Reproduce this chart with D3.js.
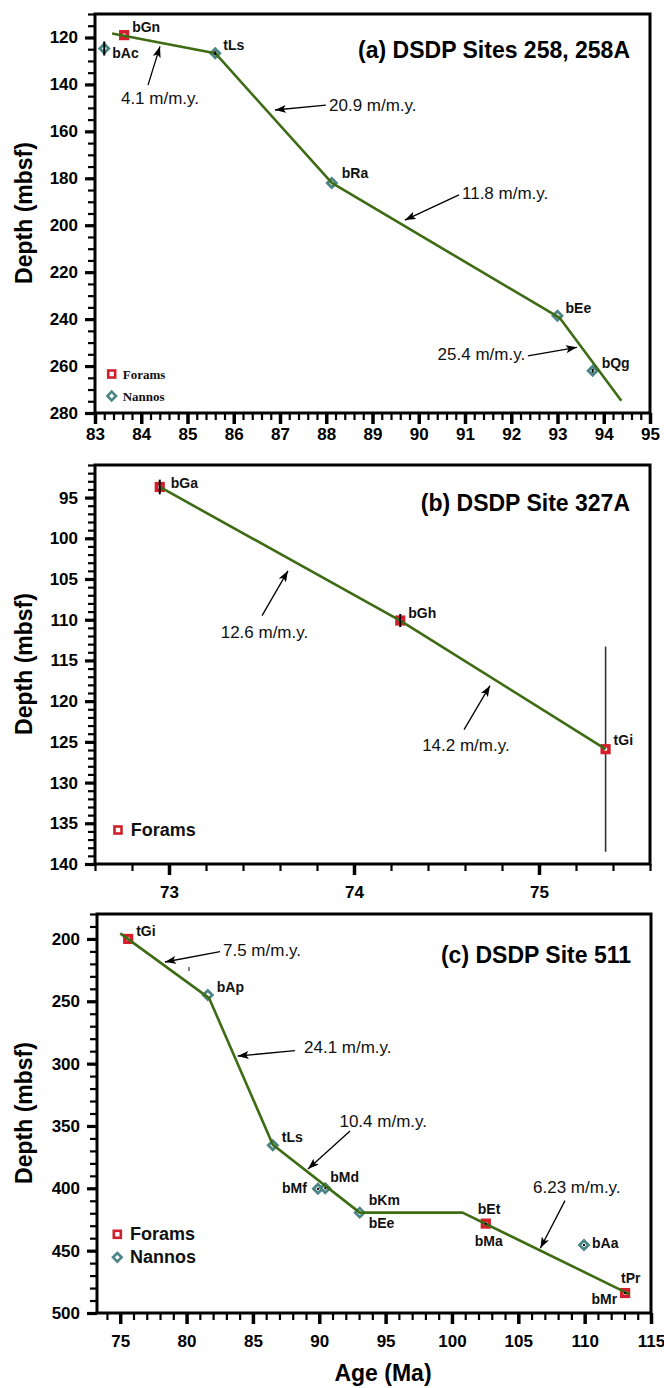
<!DOCTYPE html>
<html><head><meta charset="utf-8">
<script src="https://cdn.jsdelivr.net/npm/d3@7"></script>
<style>
body{margin:0;background:#fff}
svg{display:block}
</style>
</head><body>
<svg id="chart" width="664" height="1388" font-family="'Liberation Sans',Arial,sans-serif"></svg>
<script>
// ================= DATA =================
// ---- Panel (a) DSDP Sites 258, 258A ----
const aTitle       = '(a) DSDP Sites 258, 258A';
const aAgeTicks    = [83,84,85,86,87,88,89,90,91,92,93,94,95];
const aDepthTicks  = [120,140,160,180,200,220,240,260,280];
const aForamNames  = ['bGn'];
const aForamAges   = [83.63];
const aForamDepths = [119.0];
const aForamErr    = [0];
const aNannoNames  = ['bAc','tLs','bRa','bEe','bQg'];
const aNannoAges   = [83.20,85.60,88.12,93.00,93.76];
const aNannoDepths = [124.7,126.7,182.0,238.6,262.0];
const aNannoErr    = [3.0,0.8,0,0,0.8];
const aLineAges    = [83.37,85.60,88.12,93.05,94.38];
const aLineDepths  = [118.3,126.7,182.0,239.5,274.8];
const aRates       = ['4.1 m/m.y.','20.9 m/m.y.','11.8 m/m.y.','25.4 m/m.y.'];

// ---- Panel (b) DSDP Site 327A ----
const bTitle       = '(b) DSDP Site 327A';
const bAgeTicks    = [73,74,75];
const bDepthTicks  = [95,100,105,110,115,120,125,130,135,140];
const bForamNames  = ['bGa','bGh','tGi'];
const bForamAges   = [72.95,74.25,75.36];
const bForamDepths = [93.7,110.1,125.9];
const bForamErr    = [0.9,0.8,12.6];
const bNannoNames  = [];
const bNannoAges   = [];
const bNannoDepths = [];
const bNannoErr    = [];
const bLineAges    = [72.95,74.25,75.36];
const bLineDepths  = [93.7,110.1,125.9];
const bRates       = ['12.6 m/m.y.','14.2 m/m.y.'];

// ---- Panel (c) DSDP Site 511 ----
const cTitle       = '(c) DSDP Site 511';
const cAgeTicks    = [75,80,85,90,95,100,105,110,115];
const cDepthTicks  = [200,250,300,350,400,450,500];
const cForamNames  = ['tGi','bEt','tPr'];
const cForamAges   = [75.60,102.55,113.05];
const cForamDepths = [200.0,428.3,484.0];
const cForamErr    = [0,0.8,0.8];
const cNannoNames  = ['bAp','tLs','bMf','bMd','bKm','bAa'];
const cNannoAges   = [81.60,86.50,89.90,90.45,93.05,109.95];
const cNannoDepths = [245.0,365.4,400.4,400.0,419.5,445.5];
const cNannoErr    = [0,0,0.8,0.8,6.5,0.8];
const cExtraNames  = ['bMa','bMr','bEe'];   // second labels sharing a marker
const cLineAges    = [75.00,81.70,86.50,93.05,100.80,113.40];
const cLineDepths  = [195.5,247.5,365.0,419.5,419.5,485.0];
const cRates       = ['7.5 m/m.y.','24.1 m/m.y.','10.4 m/m.y.','6.23 m/m.y.'];

const xTitle = 'Age (Ma)';
const yTitle = 'Depth (mbsf)';
const legendNames = ['Forams','Nannos'];

// ================= STYLE / LAYOUT =================
const FORAM = '#d21f2b', NANNO = '#4b8585', LINE = '#3d6c14';
const SANS = "'Liberation Sans',Arial,sans-serif";
const SERIF = "'Liberation Serif','Times New Roman',serif";

const layoutA = {
  frame:{left:95,right:650,top:14,bottom:413},
  xDomain:[83,95], yDomain:[110,280],
  xMinor:d3.range(83,95.001,0.2), yMinor:d3.range(110,280.001,5),
  xPad:4, titleXY:[630,50],
  labels:{bGn:[8,-3,'start'],bAc:[8,9,'start'],tLs:[8,-3,'start'],bRa:[10,-5,'start'],bEe:[8,-3,'start'],bQg:[9,-3,'start']},
  rates:[
    {t:[84.405,145.8,'middle'], f:[84.146,140.3], h:[84.405,123.8]},
    {t:[88.06,148.8,'start'],  f:[87.99,148.8],  h:[86.89,150.9]},
    {t:[90.935,186.3,'start'], f:[90.87,187.1],  h:[89.70,197.8]},
    {t:[92.30,254.9,'end'],    f:[92.36,255.7],  h:[93.42,252.0]}
  ],
  legend:{x:111.7, y:[374,396], serif:true},
  yLabelY:213
};
const layoutB = {
  frame:{left:95,right:650,top:465,bottom:864},
  xDomain:[72.6,75.6], yDomain:[91,140],
  xMinor:d3.range(72.6,75.601,0.2), yMinor:d3.range(91,140.001,1),
  xPad:11, titleXY:[630,503],
  labels:{bGa:[11,1,'start'],bGh:[8,-3,'start'],tGi:[8,-4,'start']},
  rates:[
    {t:[73.516,111.63,'middle'], f:[73.503,109.5], h:[73.643,104.0]},
    {t:[74.605,125.4,'middle'],  f:[74.595,123.5], h:[74.735,118.1]}
  ],
  legend:{x:118, y:[830], serif:false},
  yLabelY:664
};
const layoutC = {
  frame:{left:97,right:651,top:914,bottom:1313},
  xDomain:[73.25,115], yDomain:[180,500],
  xMinor:d3.range(74,115.001,1), yMinor:d3.range(180,500.001,10),
  xPad:11, titleXY:[631,955],
  labels:{tGi:[8,-3,'start'],bAp:[9,-3,'start'],tLs:[9,-3,'start'],bMf:[-11,4,'end'],bMd:[5,-6,'start'],
          bKm:[9,-8,'start'],bEe:[9,15,'start'],bEt:[-8,-10,'start'],bMa:[-11,22,'start'],
          bAa:[8,3,'start'],tPr:[-4,-10,'start'],bMr:[-8,11,'end']},
  extraAt:{bMa:'bEt',bMr:'tPr',bEe:'bKm'},
  rates:[
    {t:[82.745,208.9,'start'], f:[82.52,210.2], h:[78.37,218.5]},
    {t:[88.85,286.7,'start'],  f:[88.17,289.6], h:[83.85,293.9]},
    {t:[98.12,346.8,'end'],    f:[92.32,354.0], h:[89.15,384.5]},
    {t:[106.11,399.7,'start'], f:[108.52,409.9],h:[106.66,448.1]}
  ],
  stray:[80.18,222.5,225.7],
  legend:{x:117.3, y:[1234.3,1257.3], serif:false},
  yLabelY:1113
};

// ================= RENDER =================
const svg = d3.select('#chart');
const defs = svg.append('defs');
defs.append('marker').attr('id','arrow').attr('markerUnits','userSpaceOnUse')
  .attr('markerWidth',11).attr('markerHeight',8).attr('refX',11).attr('refY',4)
  .attr('orient','auto')
  .append('path').attr('d','M0,0 L11,4 L0,8 L2.5,4 Z').attr('fill','#000');

function diamond(r){ return `M0,${-r} L${r},0 L0,${r} L${-r},0 Z`; }

function drawPanel(L, D){
  const F = L.frame;
  const x = d3.scaleLinear().domain(L.xDomain).range([F.left,F.right]);
  const y = d3.scaleLinear().domain(L.yDomain).range([F.top,F.bottom]);
  const g = svg.append('g');

  function ticks(axisGen, trans, vals, size, width, fmt, pad){
    const a = g.append('g').attr('transform',trans)
      .call(axisGen.tickValues(vals).tickSize(size).tickPadding(pad||0).tickFormat(fmt));
    a.select('.domain').remove();
    a.selectAll('line').attr('stroke','#000').attr('stroke-width',width);
    a.attr('font-family',SANS).attr('font-size',17).attr('font-weight','bold');
    a.selectAll('text').attr('fill','#000');
    return a;
  }
  // minor ticks
  ticks(d3.axisBottom(x), `translate(0,${F.bottom})`, L.xMinor, 7, 2.2, ()=>'');
  ticks(d3.axisLeft(y), `translate(${F.left},0)`, L.yMinor, 7, 2.2, ()=>'');
  // major ticks + labels
  ticks(d3.axisBottom(x), `translate(0,${F.bottom})`, D.ageTicks, 11, 3.5, d3.format('d'), L.xPad);
  ticks(d3.axisLeft(y), `translate(${F.left},0)`, D.depthTicks, 10, 3.2, d3.format('d'), 7);

  // frame
  g.append('rect').attr('x',F.left).attr('y',F.top)
    .attr('width',F.right-F.left).attr('height',F.bottom-F.top)
    .attr('fill','none').attr('stroke','#000').attr('stroke-width',3);

  // stray mark
  if (L.stray) g.append('line').attr('x1',x(L.stray[0])).attr('x2',x(L.stray[0]))
     .attr('y1',y(L.stray[1])).attr('y2',y(L.stray[2])).attr('stroke','#000').attr('stroke-width',1);

  const foram = D.foramNames.map((n,i)=>({n,a:D.foramAges[i],d:D.foramDepths[i],e:D.foramErr[i]}));
  const nanno = D.nannoNames.map((n,i)=>({n,a:D.nannoAges[i],d:D.nannoDepths[i],e:D.nannoErr[i]}));
  // big error bar (thin grey)
  foram.filter(p=>p.e>5).forEach(p=>{
    g.append('line').attr('x1',x(p.a)).attr('x2',x(p.a)).attr('y1',y(p.d-p.e)).attr('y2',y(p.d+p.e))
      .attr('stroke','#333').attr('stroke-width',1.6);
  });

  // markers
  nanno.forEach(p=>{
    g.append('path').attr('d',diamond(4.5)).attr('transform',`translate(${x(p.a)},${y(p.d)})`)
      .attr('fill','#fff').attr('stroke',NANNO).attr('stroke-width',2.8);
  });
  foram.forEach(p=>{
    g.append('rect').attr('x',x(p.a)-3.3).attr('y',y(p.d)-3.3).attr('width',6.6).attr('height',6.6)
      .attr('fill','#fff').attr('stroke',FORAM).attr('stroke-width',3.6);
  });

  // age-depth line
  const pts = D.lineAges.map((a,i)=>[a,D.lineDepths[i]]);
  g.append('path').attr('d',d3.line().x(d=>x(d[0])).y(d=>y(d[1]))(pts))
    .attr('fill','none').attr('stroke',LINE).attr('stroke-width',2.6).attr('stroke-linejoin','round');

  // small error bars
  foram.concat(nanno).filter(p=>p.e>0 && p.e<=5).forEach(p=>{
    g.append('line').attr('x1',x(p.a)).attr('x2',x(p.a)).attr('y1',y(p.d-p.e)).attr('y2',y(p.d+p.e))
      .attr('stroke','#000').attr('stroke-width',2);
  });

  // labels
  const all = foram.concat(nanno);
  const pos = {}; all.forEach(p=>pos[p.n]=p);
  const names = all.map(p=>p.n).concat(D.extraNames||[]);
  names.forEach(n=>{
    const p = pos[(L.extraAt && L.extraAt[n]) || n];
    const o = L.labels[n];
    g.append('text').attr('x',x(p.a)+o[0]).attr('y',y(p.d)+o[1]).attr('text-anchor',o[2])
      .attr('font-size',14).attr('font-weight','bold').attr('fill','#111').text(n);
  });

  // rate annotations
  L.rates.forEach((r,i)=>{
    g.append('line').attr('x1',x(r.f[0])).attr('y1',y(r.f[1])).attr('x2',x(r.h[0])).attr('y2',y(r.h[1]))
      .attr('stroke','#000').attr('stroke-width',1.3).attr('marker-end','url(#arrow)');
    g.append('text').attr('x',x(r.t[0])).attr('y',y(r.t[1])).attr('text-anchor',r.t[2])
      .attr('dominant-baseline','central').attr('font-size',17).attr('fill','#111').text(D.rates[i]);
  });

  // title
  g.append('text').attr('x',L.titleXY[0]).attr('y',L.titleXY[1]).attr('text-anchor','end')
    .attr('dominant-baseline','central').attr('font-size',23).attr('font-weight','bold').text(D.title);

  // y label
  g.append('text').attr('transform',`translate(24,${L.yLabelY}) rotate(-90)`).attr('text-anchor','middle')
    .attr('dominant-baseline','central').attr('font-size',23).attr('font-weight','bold').text(yTitle);

  // legend
  const lg = L.legend;
  lg.y.forEach((ly,i)=>{
    if (i===0) g.append('rect').attr('x',lg.x-3.5).attr('y',ly-3.5).attr('width',7).attr('height',7)
        .attr('fill','#fff').attr('stroke',FORAM).attr('stroke-width',2.6);
    else g.append('path').attr('d',diamond(4.3)).attr('transform',`translate(${lg.x},${ly})`)
        .attr('fill','#fff').attr('stroke',NANNO).attr('stroke-width',2.6);
    g.append('text').attr('x',lg.x+(lg.serif?11:12.7)).attr('y',ly).attr('dominant-baseline','central')
      .attr('font-family',lg.serif?SERIF:SANS)
      .attr('font-size',lg.serif?13:18).attr('font-weight','bold').attr('fill','#111').text(legendNames[i]);
  });
}

drawPanel(layoutA,{title:aTitle,ageTicks:aAgeTicks,depthTicks:aDepthTicks,
  foramNames:aForamNames,foramAges:aForamAges,foramDepths:aForamDepths,foramErr:aForamErr,
  nannoNames:aNannoNames,nannoAges:aNannoAges,nannoDepths:aNannoDepths,nannoErr:aNannoErr,
  lineAges:aLineAges,lineDepths:aLineDepths,rates:aRates});
drawPanel(layoutB,{title:bTitle,ageTicks:bAgeTicks,depthTicks:bDepthTicks,
  foramNames:bForamNames,foramAges:bForamAges,foramDepths:bForamDepths,foramErr:bForamErr,
  nannoNames:bNannoNames,nannoAges:bNannoAges,nannoDepths:bNannoDepths,nannoErr:bNannoErr,
  lineAges:bLineAges,lineDepths:bLineDepths,rates:bRates});
drawPanel(layoutC,{title:cTitle,ageTicks:cAgeTicks,depthTicks:cDepthTicks,
  foramNames:cForamNames,foramAges:cForamAges,foramDepths:cForamDepths,foramErr:cForamErr,
  nannoNames:cNannoNames,nannoAges:cNannoAges,nannoDepths:cNannoDepths,nannoErr:cNannoErr,
  extraNames:cExtraNames,lineAges:cLineAges,lineDepths:cLineDepths,rates:cRates});

// x axis title
svg.append('text').attr('x',383).attr('y',1373).attr('text-anchor','middle').attr('dominant-baseline','central')
  .attr('font-size',23).attr('font-weight','bold').text(xTitle);
</script>
</body></html>
